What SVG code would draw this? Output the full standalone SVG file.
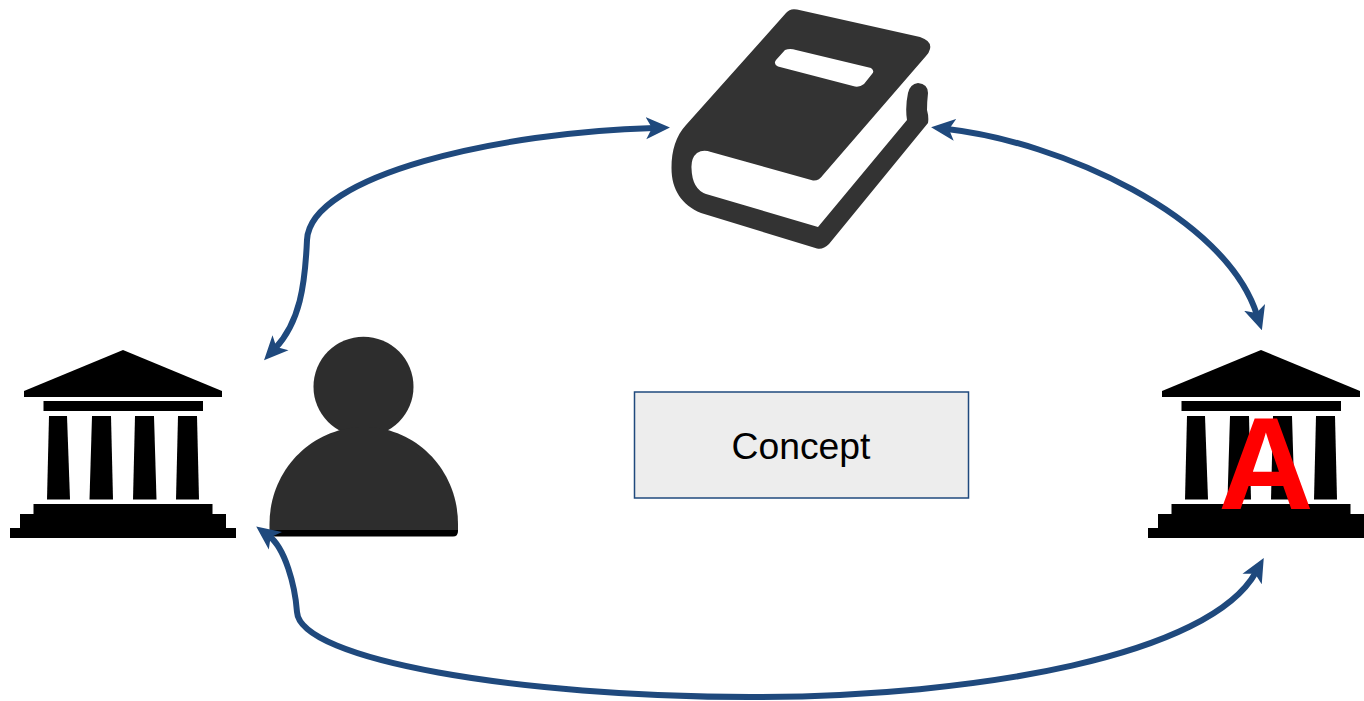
<svg xmlns="http://www.w3.org/2000/svg" width="1364" height="701" viewBox="0 0 1364 701">
  <style>
    .bank { fill: #000; }
    .conn { fill: none; stroke: #1f497d; stroke-width: 6; marker-start: url(#head); marker-end: url(#head); }
    .concept-box { fill: #ededed; stroke: #1f497d; stroke-width: 1.5; }
    .concept-text { font-family: "Liberation Sans", Arial, sans-serif; font-size: 37.300px; fill: #000; text-anchor: middle; }
    .mark { font-family: "Liberation Sans", Arial, sans-serif; font-size: 132px; font-weight: bold; fill: #f00; text-anchor: middle; }
  </style>
  <defs>
    <marker id="head" viewBox="0 0 24 24" markerUnits="userSpaceOnUse" markerWidth="24" markerHeight="24" refX="8" refY="12" orient="auto-start-reverse">
      <path d="M24 12 L0 1 L6 12 L0 23 Z" fill="#1f497d"/>
    </marker>
    <g id="bank-shape" class="bank">
      <path d="M123 350 L222 391 V397 H24 V391 Z"/>
      <rect x="43.500" y="401" width="159.500" height="10"/>
      <path d="M49 416 H67 L70 499.500 H47 Z"/>
      <path d="M92 416 H111 L113 499.500 H89.500 Z"/>
      <path d="M135 416 H154 L156.500 499.500 H133 Z"/>
      <path d="M178 416 H197 L199 499.500 H176 Z"/>
      <path d="M33.500 504 H212.500 V514 H226 V528 H236 V538 H10 V528 H20 V514 H33.500 Z"/>
    </g>
  </defs>
  <rect width="1364" height="701" fill="#fff"/>

  <g id="bank-left"><use href="#bank-shape"/></g>
  <g id="bank-right"><use href="#bank-shape" x="1138"/>
    <text class="mark" x="1266" y="509">A</text>
  </g>

  <g id="person">
    <path d="M270 526 H458 V531 Q458 536.500 453 536.500 H275 Q270 536.500 270 531 Z" fill="#000"/>
    <circle cx="363.500" cy="386.700" r="50" fill="#2d2d2d"/>
    <path d="M269.500 530 V524 C269.500 470 312 427 364 427 C416 427 458 470 458 524 V530 Z" fill="#2d2d2d"/>
  </g>

  <g id="book">
    <path fill="#333" fill-rule="evenodd" d="M786 13 Q790 8 797 9.500 L920 37 Q932 41 930 49 Q929 53 926 56 L823 175 Q819 181 813 180.500 L711 152 Q703 149 697 153 Q691 158 691.500 168 Q692 189 706 194 L818 227 L907 120 Q905 107 908 93 Q910 84 918 83 Q928 84 928 93 Q927 102 927 110 Q929 117 928 123 L829 244 Q823 250 817 248.500 L701 213 C682 205 671.500 190 671.500 168 C671.500 150 676 136 686 125 Z M785 50 Q790 48 796 50 L871 68 Q875 71 872 74 L864 84 Q859 88 853 86 L778 66.500 Q773 64 776 60 Z"/>
  </g>

  <g id="concept">
    <rect class="concept-box" x="634.500" y="392" width="334" height="106"/>
    <text class="concept-text" x="801" y="459">Concept</text>
  </g>

  <g id="connectors">
    <path class="conn" d="M654 128 C500 132 310 175 307 240 C305 285 300 322 275 348.500"/>
    <path class="conn" d="M947 129 C1060 142 1225 215 1257 315"/>
    <path class="conn" d="M269 536 C285 548 295 585 297 612 C300 660 520 697 750 697 C980 697 1210 655 1256 572"/>
  </g>
</svg>
